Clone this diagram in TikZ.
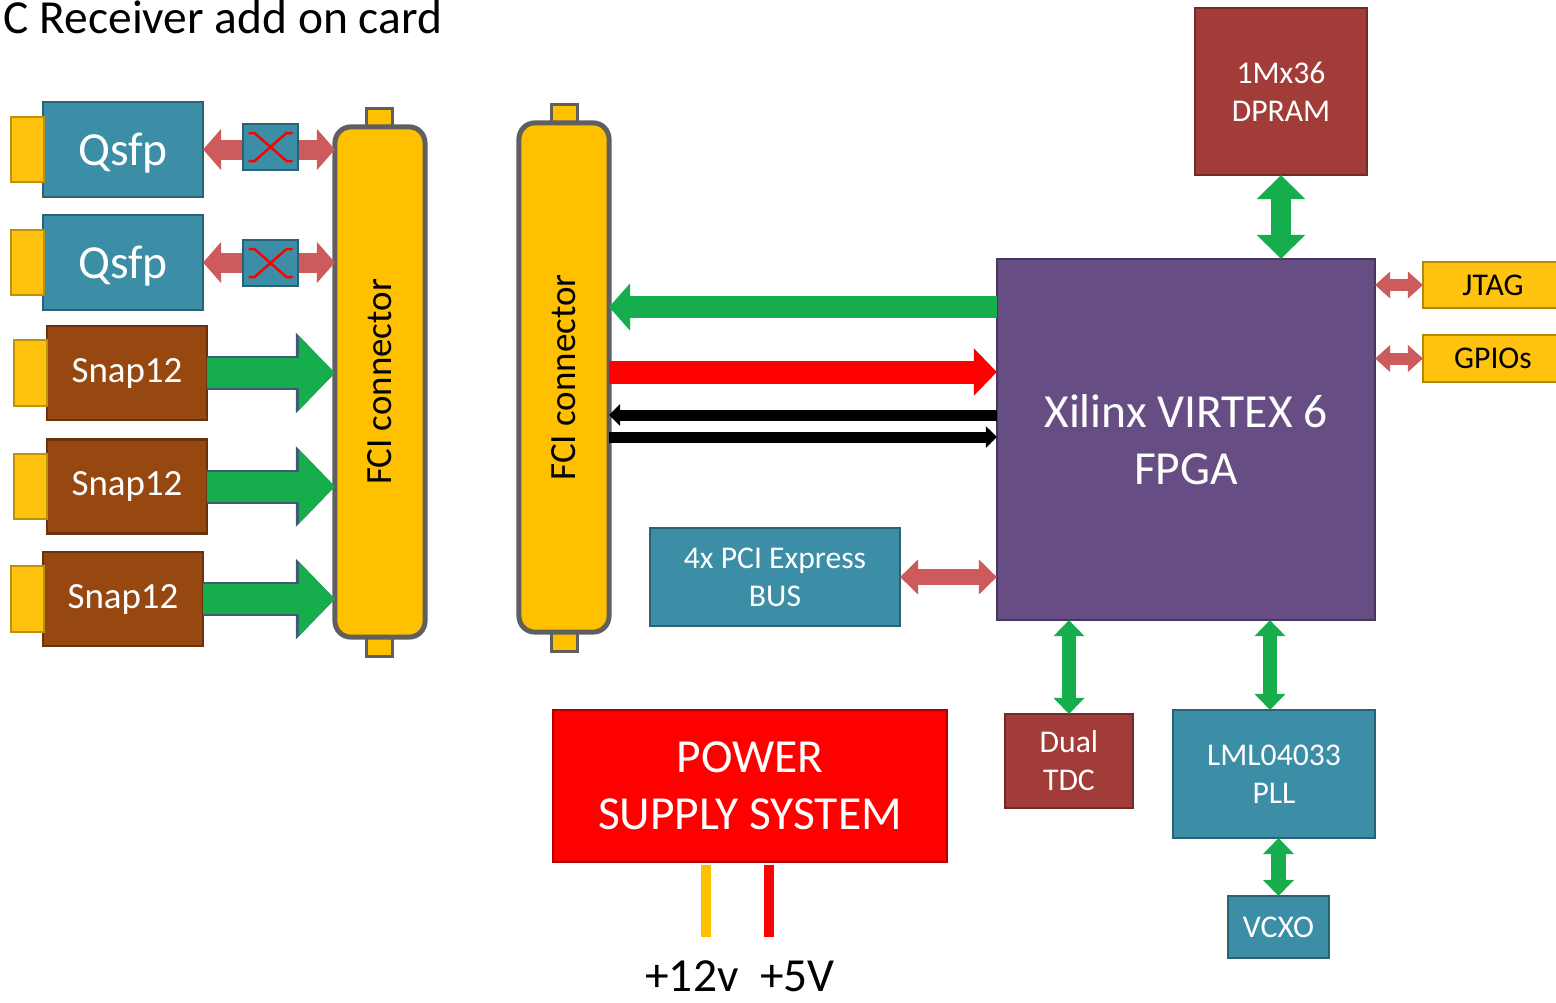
\documentclass[tikz,border=0pt]{standalone}
\usepackage{fontspec}
\setmainfont{Carlito}
\usepackage{tikz}
\usetikzlibrary{arrows.meta,positioning}
\usepackage{xcolor}

\definecolor{tealc}{HTML}{3B8EA5}
\definecolor{brownc}{HTML}{974811}
\definecolor{goldc}{HTML}{FFC20E}
\definecolor{fciyel}{HTML}{FFC000}
\definecolor{fcigray}{HTML}{5F5F5F}
\definecolor{purplec}{HTML}{664E85}
\definecolor{dredc}{HTML}{A23C39}
\definecolor{pred}{HTML}{FF0000}
\definecolor{grn}{HTML}{16AD4D}
\definecolor{rlink}{HTML}{CD5B5B}
\definecolor{slate}{HTML}{3F5A78}

\begin{document}
\begin{tikzpicture}[x=0.01cm, y=-0.01cm,
    box/.style={draw=#1!70!black, fill=#1, line width=0.025cm, text=white, align=center, inner sep=0pt, outer sep=0pt},
    tab/.style={draw=goldc!75!black, fill=goldc, line width=0.02cm, minimum width=0.33cm, minimum height=0.65cm, inner sep=0pt},
    fci/.style={draw=fcigray, fill=fciyel, line width=0.05cm, rounded corners=0.16cm, minimum width=0.9cm, inner sep=0pt, outer sep=0pt},
    fcitab/.style={draw=fcigray, fill=fciyel, line width=0.03cm, minimum width=0.25cm, minimum height=0.2cm, inner sep=0pt},
    bigtxt/.style={font=\fontsize{13.5}{16.2}\selectfont},
    midtxt/.style={font=\fontsize{10.5}{12.6}\selectfont},
    smalltxt/.style={font=\fontsize{9}{10.8}\selectfont},
    xmark/.style={draw=red, line width=0.025cm},
    snaparrow/.style={draw=grn, line width=0.3cm, -{Triangle[width=0.72cm,length=0.36cm]},
        preaction={draw=slate, line width=0.34cm, -{Triangle[width=0.78cm,length=0.39cm]}}},
    busgreen/.style={draw=grn, line width=0.22cm, -{Triangle[width=0.46cm,length=0.21cm]}},
    busred/.style={draw=red, line width=0.23cm, -{Triangle[width=0.46cm,length=0.23cm]}},
    busblack/.style={draw=black, line width=0.11cm, -{Triangle[width=0.21cm,length=0.11cm]}},
    linkred/.style={draw=rlink, line width=0.2cm, {Triangle[width=0.4cm,length=0.18cm]}-{Triangle[width=0.4cm,length=0.18cm]}},
    pcired/.style={draw=rlink, line width=0.16cm, {Triangle[width=0.34cm,length=0.18cm]}-{Triangle[width=0.34cm,length=0.18cm]}},
    ioRed/.style={draw=rlink, line width=0.12cm, {Triangle[width=0.26cm,length=0.15cm]}-{Triangle[width=0.26cm,length=0.15cm]}},
    memgreen/.style={draw=grn, line width=0.2cm, {Triangle[width=0.47cm,length=0.24cm]}-{Triangle[width=0.47cm,length=0.24cm]}},
    auxgreen/.style={draw=grn, line width=0.14cm, {Triangle[width=0.3cm,length=0.16cm]}-{Triangle[width=0.3cm,length=0.16cm]}},
    railwire/.style={line width=0.1cm}]
    \useasboundingbox (0,0) rectangle (1556,1002);

    % title
    \node[bigtxt, anchor=base west, inner sep=0pt] (title) at (3,33) {C Receiver add on card};

    % left FCI connector
    \node[fcitab] (fciLt) at (379.5,118) {};
    \node[fcitab] (fciLb) at (379.5,646) {};
    \node[fci, minimum height=5.1cm, label={[rotate=90, midtxt]center:FCI connector}] (fciL) at (380,382) {};

    % right FCI connector
    \node[fcitab] (fciRt) at (564.5,114) {};
    \node[fcitab] (fciRb) at (564.5,641) {};
    \node[fci, minimum height=5.09cm, label={[rotate=90, midtxt]center:FCI connector}] (fciR) at (564,377.5) {};

    % optical modules
    \node[box=tealc, bigtxt, minimum width=1.6cm, minimum height=0.95cm, text depth=-0.06cm] (qsfp1) at (123,149.5) {Qsfp};
    \node[tab, left=-0.02cm of qsfp1] (tabq1) {};
    \node[box=tealc, bigtxt, minimum width=1.6cm, minimum height=0.95cm, text depth=-0.06cm] (qsfp2) at (123,262.5) {Qsfp};
    \node[tab, left=-0.02cm of qsfp2] (tabq2) {};
    \node[box=brownc, midtxt, minimum width=1.6cm, minimum height=0.94cm] (snap1) at (127,373) {Snap12};
    \node[tab, left=-0.01cm of snap1] (tabs1) {};
    \node[box=brownc, midtxt, minimum width=1.6cm, minimum height=0.94cm] (snap2) at (127,486.5) {Snap12};
    \node[tab, left=-0.01cm of snap2] (tabs2) {};
    \node[box=brownc, midtxt, minimum width=1.6cm, minimum height=0.94cm] (snap3) at (123,599) {Snap12};
    \node[tab, left=-0.02cm of snap3] (tabs3) {};

    \draw[linkred] (qsfp1.east) -- (qsfp1.east -| fciL.west);
    \draw[linkred] (qsfp2.east) -- (qsfp2.east -| fciL.west);
    \draw[snaparrow] (snap1.east) -- (snap1.east -| fciL.west);
    \draw[snaparrow] (snap2.east) -- (snap2.east -| fciL.west);
    \draw[snaparrow] (snap3.east) -- (snap3.east -| fciL.west);

    % crossover boxes
    \node[box=tealc, minimum width=0.55cm, minimum height=0.46cm] (xbar1) at (270.5,147) {};
    \draw[xmark] (xbar1.center) ++(-22,-14) -- ++(6,0) -- ++(32,28) -- ++(6,0)
                 (xbar1.center) ++(22,-14) -- ++(-6,0) -- ++(-32,28) -- ++(-6,0);
    \node[box=tealc, minimum width=0.55cm, minimum height=0.46cm] (xbar2) at (270.5,263) {};
    \draw[xmark] (xbar2.center) ++(-22,-14) -- ++(6,0) -- ++(32,28) -- ++(6,0)
                 (xbar2.center) ++(22,-14) -- ++(-6,0) -- ++(-32,28) -- ++(-6,0);

    % FPGA and its neighbours
    \node[box=purplec, bigtxt, minimum width=3.78cm, minimum height=3.61cm] (fpga) at (1186,439.5) {Xilinx VIRTEX 6\\FPGA};
    \node[box=dredc, smalltxt, minimum width=1.72cm, minimum height=1.67cm] (dpram) at (1281,91.5) {1Mx36\\DPRAM};
    \node[box=goldc, smalltxt, text=black, minimum width=1.4cm, minimum height=0.46cm] (jtag) at (1493,285) {JTAG};
    \node[box=goldc, smalltxt, text=black, minimum width=1.4cm, minimum height=0.47cm] (gpio) at (1493,358.5) {GPIOs};
    \node[box=tealc, smalltxt, minimum width=2.5cm, minimum height=0.98cm] (pcie) at (775,577) {4x PCI Express\\BUS};
    \node[box=dredc, smalltxt, minimum width=1.28cm, minimum height=0.94cm] (tdc) at (1069,761) {Dual\\TDC};
    \node[box=tealc, smalltxt, minimum width=2.02cm, minimum height=1.28cm] (pll) at (1274,774) {LML04033\\PLL};
    \node[box=tealc, smalltxt, minimum width=1.01cm, minimum height=0.62cm] (vcxo) at (1278.5,927) {VCXO};

    \draw[busgreen] (fpga.west |- 0,307) -- (fciR.east |- 0,307);
    \draw[busred] (fciR.east |- 0,372) -- (fpga.west |- 0,372);
    \draw[busblack] (fpga.west |- 0,415) -- (fciR.east |- 0,415);
    \draw[busblack] (fciR.east |- 0,437) -- (fpga.west |- 0,437);

    \draw[memgreen] (dpram.south) -- (dpram.south |- fpga.north);
    \draw[ioRed] (jtag.west) -- (jtag.west -| fpga.east);
    \draw[ioRed] (gpio.west) -- (gpio.west -| fpga.east);
    \draw[pcired] (pcie.east) -- (pcie.east -| fpga.west);
    \draw[auxgreen] (tdc.north) -- (tdc.north |- fpga.south);
    \draw[auxgreen] ([xshift=-0.04cm]pll.north) -- ([xshift=-0.04cm]pll.north |- fpga.south);
    \draw[auxgreen] (vcxo.north) -- (vcxo.north |- pll.south);

    % power supply
    \node[box=pred, bigtxt, minimum width=3.94cm, minimum height=1.52cm] (psu) at (750,786) {POWER\\SUPPLY SYSTEM};
    \coordinate (v12) at (706,937);
    \coordinate (v5) at (769,937);
    \draw[railwire, fciyel] ([yshift=-0.03cm]v12 |- psu.south) -- (v12);
    \draw[railwire, pred] ([yshift=-0.03cm]v5 |- psu.south) -- (v5);
    \node[bigtxt, anchor=base, inner sep=0pt] (rails) at (740,991) {+12v\ \ +5V};
\end{tikzpicture}
\end{document}
